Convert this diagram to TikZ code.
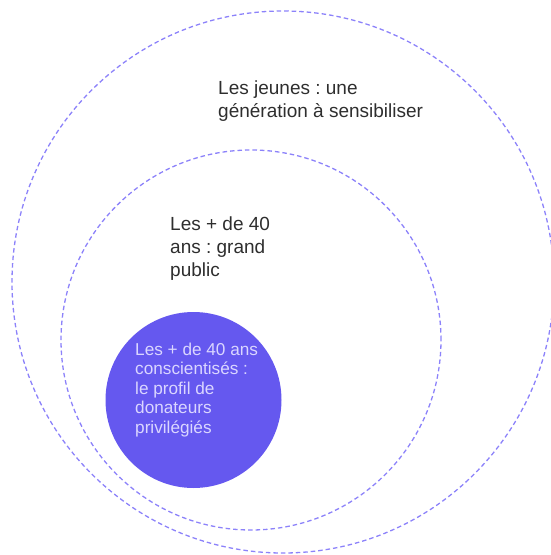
\documentclass[tikz,border=0pt]{standalone}
\usepackage{fontspec}
\setmainfont{Liberation Sans}
\frenchspacing
\definecolor{dashcol}{HTML}{8C82FA}
\definecolor{fillcol}{HTML}{6558EF}
\definecolor{darktext}{HTML}{2E2E2E}
\definecolor{lighttext}{HTML}{DAD6FF}
\tikzset{
  ring/.style={circle, draw=dashcol, line width=1.3pt, dash pattern=on 4.5pt off 3pt, inner sep=0pt},
  core/.style={circle, fill=fillcol, inner sep=0pt},
  bigtext/.style={align=left, anchor=base west, inner sep=0pt, text=darktext,
    font=\fontsize{19pt}{23pt}\selectfont},
  smalltext/.style={align=left, anchor=base west, inner sep=0pt, text=lighttext,
    font=\fontsize{17.2pt}{19.6pt}\selectfont}
}
\begin{document}
\begin{tikzpicture}[x=1pt,y=-1pt]
\useasboundingbox (0,0) rectangle (551,555);
\begin{scope}
\clip (0,0) rectangle (551,555);
\node[ring, minimum size=542pt] (outer) at (283,282) {};
\end{scope}
\node[ring, minimum size=380pt] (middle) at (251,340) {};
\node[core, minimum size=176pt] (inner) at (193.5,400) {};
\node[bigtext] (t1) at (218,117) {Les jeunes : une\\génération à sensibiliser};
\node[bigtext] (t2) at (170,276) {Les + de 40\\ans : grand\\public};
\node[smalltext] (t3) at (135,433.4) {Les + de 40 ans\\conscientisés :\\le profil de\\donateurs\\privilégiés};
\end{tikzpicture}
\end{document}
